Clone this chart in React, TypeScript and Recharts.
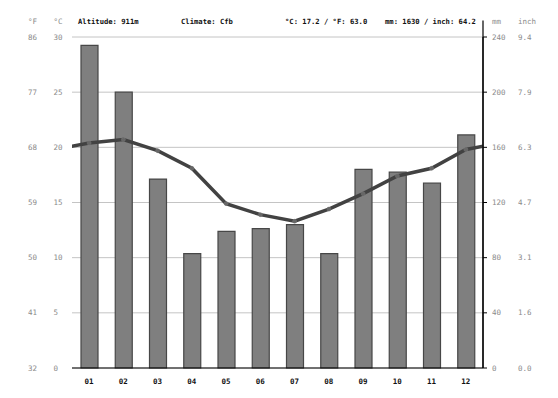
import React from "react";
import {
  ComposedChart,
  Bar,
  Line,
  XAxis,
  YAxis,
  CartesianGrid,
  ReferenceLine,
} from "recharts";

const months = ["01", "02", "03", "04", "05", "06", "07", "08", "09", "10", "11", "12"];
const precipMm = [234, 200, 137, 83, 99, 101, 104, 83, 144, 142, 134, 169];
const tempC = [20.4, 20.7, 19.7, 18.1, 14.9, 13.9, 13.3, 14.4, 15.8, 17.4, 18.1, 19.8];
const cTicks = [0, 5, 10, 15, 20, 25, 30];
const fLabels = ["32", "41", "50", "59", "68", "77", "86"];
const mmTicks = [0, 40, 80, 120, 160, 200, 240];
const inchLabels = ["0.0", "1.6", "3.1", "4.7", "6.3", "7.9", "9.4"];
const headerAltitude = "Altitude: 911m";
const headerClimate = "Climate: Cfb";
const headerTemp = "°C: 17.2 / °F: 63.0";
const headerPrecip = "mm: 1630 / inch: 64.2";

const W = 558;
const H = 398;
const FONT = "'DejaVu Sans Mono', monospace";

// main rows + wrap-around rows (Dec before Jan, Jan after Dec) so the line runs to the edges
const data = [
  { x: 0, t: tempC[11] },
  ...months.map((m, i) => ({ x: i + 1, label: m, mm: precipMm[i], t: tempC[i] })),
  { x: 13, t: tempC[0] },
];

const monthTicks = months.map((_, i) => i + 1);
const boundaryTicks = [...months.map((_, i) => i + 0.5), months.length + 0.5];

function TempTick(props: any) {
  const { y, payload } = props;
  const i = cTicks.indexOf(payload.value);
  return (
    <g>
      <text x={28} y={y} dy="0.35em" fontSize={7.5} fontFamily={FONT} fill="#8a8a8a">
        {fLabels[i]}
      </text>
      <text x={53.5} y={y} dy="0.35em" fontSize={7.5} fontFamily={FONT} fill="#8a8a8a">
        {payload.value}
      </text>
    </g>
  );
}

function MmTick(props: any) {
  const { y, payload } = props;
  const i = mmTicks.indexOf(payload.value);
  return (
    <g>
      <text x={492} y={y} dy="0.35em" fontSize={7.5} fontFamily={FONT} fill="#8a8a8a">
        {payload.value}
      </text>
      <text x={518} y={y} dy="0.35em" fontSize={7.5} fontFamily={FONT} fill="#8a8a8a">
        {inchLabels[i]}
      </text>
    </g>
  );
}

function MonthTick(props: any) {
  const { x, y, payload } = props;
  return (
    <text
      x={x}
      y={y}
      dy="0.75em"
      textAnchor="middle"
      fontSize={7.5}
      fontWeight="bold"
      fontFamily={FONT}
      fill="#111"
    >
      {months[payload.value - 1]}
    </text>
  );
}

export default function App() {
  return (
    <div style={{ position: "absolute", left: 0, top: 0, width: W, height: H, background: "#fff" }}>
      <ComposedChart
        width={W}
        height={H}
        data={data}
        margin={{ top: 37, right: 0, bottom: 0, left: 0 }}
      >
        <CartesianGrid yAxisId="t" xAxisId="m" vertical={false} stroke="#c4c4c4" strokeWidth={1} />
        <XAxis
          xAxisId="m"
          dataKey="x"
          type="number"
          domain={[0.5, 12.5]}
          ticks={monthTicks}
          allowDataOverflow
          tickLine={false}
          axisLine={{ stroke: "#000", strokeWidth: 1.2 }}
          tick={<MonthTick />}
          height={30}
          tickMargin={4}
        />
        <XAxis
          xAxisId="b"
          dataKey="x"
          type="number"
          domain={[0.5, 12.5]}
          ticks={boundaryTicks}
          allowDataOverflow
          tick={false}
          tickLine={{ stroke: "#000", strokeWidth: 1 }}
          tickSize={3}
          axisLine={false}
          height={0}
        />
        <YAxis
          yAxisId="t"
          orientation="left"
          width={72}
          domain={[0, 30]}
          ticks={cTicks}
          axisLine={false}
          tickLine={false}
          tick={<TempTick />}
          allowDataOverflow
        />
        <YAxis
          yAxisId="mm"
          orientation="right"
          width={75}
          domain={[0, 240]}
          ticks={mmTicks}
          axisLine={{ stroke: "#000", strokeWidth: 1.2 }}
          tickLine={{ stroke: "#000" }}
          tickSize={4}
          tick={<MmTick />}
        />
        <ReferenceLine
          xAxisId="m"
          yAxisId="mm"
          segment={[
            { x: 12.5, y: 0 },
            { x: 12.5, y: 252 },
          ]}
          stroke="#000"
          strokeWidth={1.2}
          ifOverflow="visible"
        />
        <Bar
          xAxisId="m"
          yAxisId="mm"
          dataKey="mm"
          barSize={17}
          fill="#7f7f7f"
          stroke="#474747"
          strokeWidth={1.2}
          isAnimationActive={false}
        />
        <Line
          xAxisId="m"
          yAxisId="t"
          dataKey="t"
          type="linear"
          stroke="#424242"
          strokeWidth={3.5}
          dot={{ r: 2, fill: "#666", stroke: "#777", strokeWidth: 0.5 }}
          isAnimationActive={false}
        />
      </ComposedChart>
      <svg
        width={W}
        height={H}
        style={{ position: "absolute", left: 0, top: 0, pointerEvents: "none" }}
      >
        <g fontFamily={FONT} fontSize={7.5}>
          <text x={28} y={21.5} dy="0.35em" fill="#8a8a8a">°F</text>
          <text x={53.5} y={21.5} dy="0.35em" fill="#8a8a8a">°C</text>
          <text x={492} y={21.5} dy="0.35em" fill="#8a8a8a">mm</text>
          <text x={518} y={21.5} dy="0.35em" fill="#8a8a8a">inch</text>
        </g>
        <g fontFamily={FONT} fontSize={7.2} fontWeight="bold" fill="#111">
          <text x={78} y={21.5} dy="0.35em">{headerAltitude}</text>
          <text x={181} y={21.5} dy="0.35em">{headerClimate}</text>
          <text x={285} y={21.5} dy="0.35em">{headerTemp}</text>
          <text x={385} y={21.5} dy="0.35em">{headerPrecip}</text>
        </g>
      </svg>
    </div>
  );
}
